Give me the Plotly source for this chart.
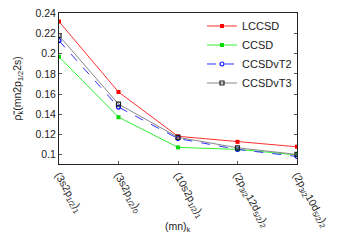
import plotly.graph_objects as go

categories = ["(3s2p<sub>1/2</sub>)<sub>1</sub>", "(3s2p<sub>1/2</sub>)<sub>0</sub>",
              "(10s2p<sub>1/2</sub>)<sub>1</sub>", "(2p<sub>3/2</sub>12d<sub>5/2</sub>)<sub>2</sub>",
              "(2p<sub>3/2</sub>10d<sub>5/2</sub>)<sub>2</sub>"]
x_idx = [0, 1, 2, 3, 4]
lccsd = [0.232, 0.162, 0.118, 0.1125, 0.1076]
ccsd = [0.197, 0.137, 0.107, 0.105, 0.0995]
ccsdvt2 = [0.213, 0.147, 0.1158, 0.105, 0.098]
ccsdvt3 = [0.218, 0.150, 0.117, 0.1066, 0.100]

W, H = 350, 245
L, R, T, B = 59, 53, 11, 81

fig = go.Figure()
fig.add_trace(go.Scatter(x=x_idx, y=lccsd, name="LCCSD", mode="lines+markers",
                         line=dict(color="#ff3030", width=1),
                         marker=dict(symbol="square", size=4, color="#ff0000")))
fig.add_trace(go.Scatter(x=x_idx, y=ccsd, name="CCSD", mode="lines+markers",
                         line=dict(color="#33ee33", width=1),
                         marker=dict(symbol="square", size=4, color="#00dd00")))
fig.add_trace(go.Scatter(x=x_idx, y=ccsdvt2, name="CCSDvT2", mode="lines+markers",
                         line=dict(color="#3030ff", width=1, dash="dash"),
                         marker=dict(symbol="circle-open", size=4, color="#0000ff", line=dict(width=1.2))))
fig.add_trace(go.Scatter(x=x_idx, y=ccsdvt3, name="CCSDvT3", mode="lines+markers",
                         line=dict(color="#888888", width=1),
                         marker=dict(symbol="square-open", size=4, color="#222222", line=dict(width=1.2))))

fig.update_layout(
    width=W, height=H,
    margin=dict(l=L, r=R, t=T, b=B),
    paper_bgcolor="white", plot_bgcolor="white",
    font=dict(family="Liberation Sans, Arial, sans-serif", size=10, color="#222"),
    showlegend=True,
    legend=dict(x=1, y=1.01, xanchor="right", yanchor="top", bgcolor="rgba(0,0,0,0)",
                font=dict(size=11), tracegroupgap=0, itemwidth=30),
    annotations=[
        dict(text="(mn)<sub>k</sub>", xref="paper", yref="paper",
             x=0.5, y=-(228 - (H - B)) / (H - T - B), xanchor="center", yanchor="middle",
             showarrow=False, font=dict(size=10.5)),
        dict(text="ρ\u0303<sub>k</sub>(mn2p<sub>1/2</sub>2s)", xref="paper", yref="paper",
             x=-(L - 17) / (W - L - R), y=0.5, xanchor="center", yanchor="middle",
             textangle=-90, showarrow=False, font=dict(size=10.5)),
    ],
)
fig.update_xaxes(
    range=[0, 4], tickmode="array", tickvals=x_idx, ticktext=categories,
    tickangle=60, ticks="inside", ticklen=3, tickcolor="#555", automargin=False,
    showline=True, linecolor="#222", linewidth=1, mirror=True, showgrid=False, zeroline=False,
    tickfont=dict(size=10.5),
)
fig.update_yaxes(
    range=[0.0905, 0.2405], tickvals=[0.1, 0.12, 0.14, 0.16, 0.18, 0.2, 0.22, 0.24],
    ticktext=["0.1", "0.12", "0.14", "0.16", "0.18", "0.2", "0.22", "0.24"],
    ticks="inside", ticklen=3, tickcolor="#555", automargin=False,
    showline=True, linecolor="#222", linewidth=1, mirror="ticks", showgrid=False, zeroline=False,
    tickfont=dict(size=10.5),
)
fig.write_html("out.html", config={"displayModeBar": False},
               post_script="document.body.style.margin='0';")
